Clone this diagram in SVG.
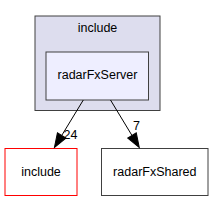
<svg xmlns="http://www.w3.org/2000/svg" width="213" height="201" viewBox="0 0 213 201">
<style>
text{font-family:"Liberation Sans",Arial,sans-serif;font-size:12.5px;fill:#000;text-anchor:middle}
.cl{fill:#ddddee;stroke:#404040;stroke-width:1}
.dir{fill:#eeeeff;stroke:#404040;stroke-width:1}
.ext{fill:#fff;stroke:#404040;stroke-width:1}
.red{fill:#fff;stroke:#ff0000;stroke-width:1}
.edge{stroke:#000;stroke-width:1;fill:none}
</style>
<defs>
<marker id="ah" markerUnits="userSpaceOnUse" markerWidth="16" markerHeight="12" refX="0" refY="5" orient="auto" overflow="visible">
<path d="M0,0 L14,5 L0,10 Z" fill="#000" stroke="#000" stroke-width="1"/>
</marker>
</defs>
<g id="cluster_include">
<rect class="cl" x="35" y="16" width="125" height="94.5"/>
<text x="97.5" y="32">include</text>
</g>
<g id="node_radarFxServer">
<rect class="dir" x="46" y="52" width="102.5" height="48"/>
<text x="97.5" y="79">radarFxServer</text>
</g>
<g id="node_include">
<rect class="red" x="5" y="148.5" width="72" height="47"/>
<text x="41" y="176">include</text>
</g>
<g id="node_radarFxShared">
<rect class="ext" x="101.5" y="148.5" width="106.5" height="47"/>
<text x="154.8" y="176">radarFxShared</text>
</g>
<g id="connectors">
<line class="edge" x1="83.3" y1="100" x2="61.7" y2="135.5" marker-end="url(#ah)"/>
<text x="70.5" y="139">24</text>
<line class="edge" x1="110.5" y1="100" x2="132" y2="135.5" marker-end="url(#ah)"/>
<text x="136.5" y="130">7</text>
</g>
</svg>
